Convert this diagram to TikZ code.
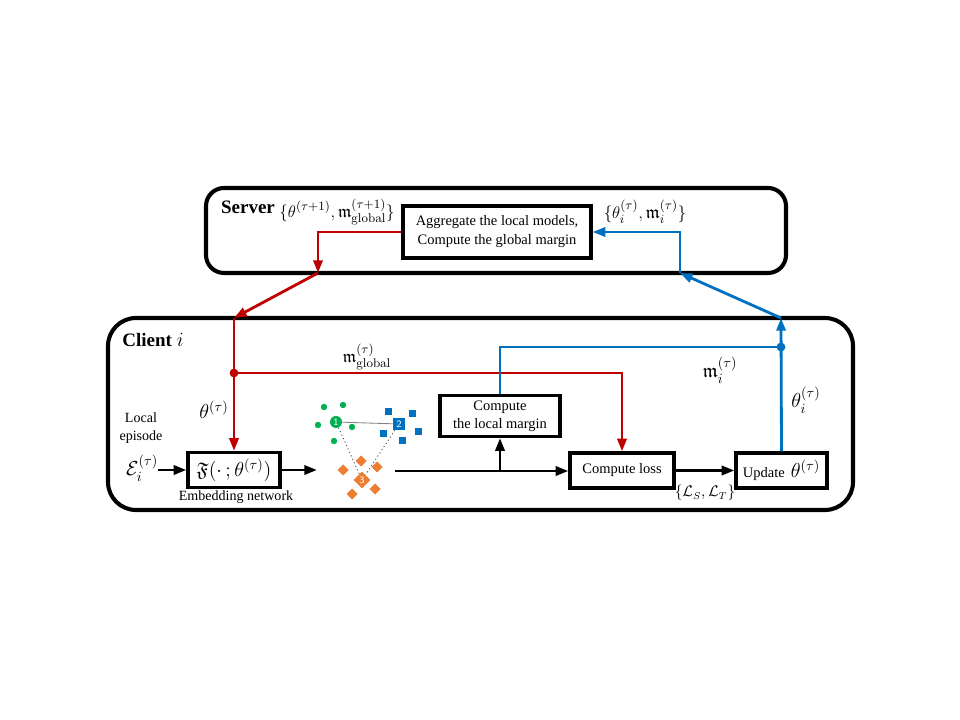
\documentclass[tikz,border=0pt]{standalone}
\usepackage[no-math]{fontspec}
\setmainfont{Liberation Serif}
\usepackage{amsmath,amssymb}
\usetikzlibrary{arrows.meta}

\definecolor{redline}{RGB}{192,0,0}
\definecolor{blueline}{RGB}{0,112,192}
\definecolor{ptgreen}{RGB}{0,176,80}
\definecolor{ptorange}{RGB}{237,125,49}

\begin{document}
\begin{tikzpicture}[x=0.025cm, y=-0.025cm,
    every node/.style={font=\fontsize{10}{13}\selectfont, inner sep=1pt},
    procbox/.style={draw, line width=2.3pt, align=center, inner sep=2pt},
    frame/.style={draw, line width=2.9pt},
    tip/.style={-{Triangle[length=9pt, width=6.5pt]}},
    redarr/.style={tip, redline, line width=2pt},
    bluearr/.style={tip, blueline, line width=2pt},
    blackarr/.style={tip, black, line width=2pt},
    biglab/.style={font=\fontsize{14}{16}\selectfont},
    midlab/.style={font=\fontsize{12.5}{15}\selectfont}
  ]
    \useasboundingbox (0, 0) rectangle (960, 720);

    % server and client frames
    \draw[frame, rounded corners=0.45cm] (206, 188) rectangle (786, 273);
    \draw[frame, rounded corners=0.7cm] (108, 318) rectangle (853, 510);

    \node[font=\fontsize{13.5}{15}\selectfont\bfseries] (server) at (248, 207) {Server};
    \node[font=\fontsize{13.5}{15}\selectfont\bfseries] (client) at (153, 340) {Client $i$};

    % boxes
    \node[procbox, minimum width=4.7cm, minimum height=1.3cm, font=\fontsize{10.3}{13.5}\selectfont] (agg) at (497, 232) {Aggregate the local models,\\Compute the global margin};
    \node[procbox, minimum width=3cm, minimum height=1.025cm, font=\fontsize{10.3}{12.8}\selectfont] (margin) at (500, 416) {Compute\\the local margin};
    \node[procbox, minimum width=2.3cm, minimum height=0.875cm, font=\fontsize{14}{16}\selectfont] (emb) at (234, 470) {$\mathfrak{F}(\cdot\,;\theta^{(\tau)})$};
    \node[procbox, minimum width=2.6cm, minimum height=0.875cm, font=\fontsize{10.3}{13}\selectfont] (loss) at (622, 470.5) {Compute loss};
    \node[procbox, minimum width=2.275cm, minimum height=0.875cm, font=\fontsize{10.3}{13}\selectfont] (upd) at (781.5, 470.5) {Update \,{\fontsize{14}{16}\selectfont$\theta^{(\tau)}$}};

    % labels
    \node[midlab] (glab) at (337, 212) {$\{\theta^{(\tau+1)}, \mathfrak{m}^{(\tau+1)}_{\mathrm{global}}\}$};
    \node[font=\fontsize{13}{15}\selectfont] (llab) at (645, 212) {$\{\theta^{(\tau)}_i, \mathfrak{m}^{(\tau)}_i\}$};
    \node[midlab] (mglob) at (367, 357) {$\mathfrak{m}^{(\tau)}_{\mathrm{global}}$};
    \node[biglab] (thlab) at (214, 410) {$\theta^{(\tau)}$};
    \node[align=center, inner sep=0pt] (episode) at (141, 428) {Local\\episode};
    \node[biglab, inner sep=0pt] (ep) at (142, 468) {$\mathcal{E}^{(\tau)}_i$};
    \node (embname) at (236, 497) {Embedding network};
    \node[biglab] (milab) at (720, 370) {$\mathfrak{m}^{(\tau)}_i$};
    \node[biglab] (thilab) at (806, 400) {$\theta^{(\tau)}_i$};
    \node[font=\fontsize{10.5}{12}\selectfont] (lslab) at (705, 493) {$\{\mathcal{L}_S, \mathcal{L}_T\}$};

    % embedding space
    \foreach \px/\py in {324/407, 343/405, 318/425, 352/427, 334/441}
        \fill[ptgreen] (\px, \py) circle (0.08cm);
    \foreach \px/\py in {388/412, 412/414, 383/434, 418/432, 402/441}
        \fill[blueline] (\px - 3.5, \py - 3.5) rectangle (\px + 3.5, \py + 3.5);
    \foreach \px/\py in {361/461, 343/470, 377/467, 375/489, 352/494}
        \fill[ptorange] (\px, \py - 5.5) -- (\px + 5.5, \py) -- (\px, \py + 5.5) -- (\px - 5.5, \py) -- cycle;
    \node[circle, fill=ptgreen, minimum size=0.3cm, inner sep=0pt, text=white, font=\sffamily\scriptsize] (p1) at (336, 422) {1};
    \node[fill=blueline, minimum size=0.3cm, inner sep=0pt, text=white, font=\sffamily\scriptsize] (p2) at (399, 424) {2};
    \node[fill=ptorange, rotate=45, minimum size=0.3cm, inner sep=0pt, text=white, font=\sffamily\scriptsize] (p3) at (362, 480) {\rotatebox{-45}{3}};
    \draw[gray, line width=0.6pt] (p1) -- (p2);
    \draw[black!70, dotted, line width=0.7pt] (p1) -- (p3);
    \draw[black!70, dotted, line width=0.7pt] (p2) -- (p3);

    % red path
    \coordinate (sdown) at (318, 273);
    \coordinate (cin) at (234, 318);
    \coordinate (rdot) at (234, 373);
    \draw[redarr] (agg.west) -| (sdown);
    \draw[redarr] (sdown) -- (cin);
    \draw[redarr] (cin) -- (emb.north);
    \draw[redarr] (rdot) -| (loss.north);
    \fill[redline] (rdot) circle (0.11cm);

    % blue path
    \coordinate (cout) at (781, 318);
    \coordinate (bdot) at (781, 347);
    \coordinate (sup) at (680, 273);
    \draw[bluearr] (upd.north) -- (cout);
    \draw[blueline, line width=2pt] (margin.north) |- (bdot);
    \fill[blueline] (bdot) circle (0.11cm);
    \draw[bluearr] (cout) -- (sup);
    \draw[bluearr] (sup) |- (agg.east);

    % black path
    \coordinate (sin) at (317, 470);
    \coordinate (sout) at (395, 471);
    \draw[blackarr] (ep.east |- emb.west) -- (emb.west);
    \draw[blackarr] (emb.east) -- (sin);
    \draw[blackarr] (sout) -- (sout -| loss.west);
    \draw[blackarr] (sout -| margin.south) -- (margin.south);
    \draw[blackarr] (loss.east) -- (upd.west);
\end{tikzpicture}
\end{document}
